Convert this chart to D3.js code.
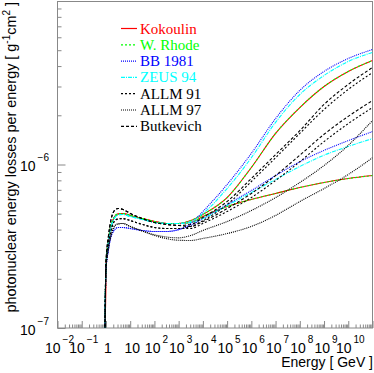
<!DOCTYPE html>
<html>
<head>
<meta charset="utf-8">
<script src="https://cdn.jsdelivr.net/npm/d3@7"></script>
<style>
  html, body { margin: 0; padding: 0; background: #fff; }
  svg { display: block; }
</style>
</head>
<body>
<div id="chart"></div>
<script>
// muon energy in GeV
const energies = [0.83, 1, 1.26, 1.58, 2, 2.51, 3.16, 5.01, 10, 31.6, 100, 316, 1e3, 3.16e3, 1e4, 1e5, 1e6, 1e7, 1e8, 1e9, 1e10, 1e11];

// b(E) in units of 1e-6 g^-1 cm^2, two curves per parametrisation
const kokoulinHi = [0.02, 0.241, 0.343, 0.418, 0.461, 0.488, 0.498, 0.502, 0.488, 0.467, 0.448, 0.436, 0.436, 0.454, 0.495, 0.628, 0.959, 1.55, 2.23, 3.00, 3.71, 4.33];
const kokoulinLo = [0.02, 0.241, 0.343, 0.418, 0.461, 0.488, 0.498, 0.502, 0.488, 0.467, 0.448, 0.436, 0.436, 0.442, 0.481, 0.553, 0.611, 0.665, 0.723, 0.776, 0.821, 0.856];
const rhodeHi = [0.02, 0.241, 0.343, 0.418, 0.461, 0.488, 0.498, 0.502, 0.488, 0.467, 0.448, 0.436, 0.436, 0.454, 0.495, 0.628, 0.959, 1.55, 2.23, 3.00, 3.71, 4.33];
const rhodeLo = [0.02, 0.241, 0.343, 0.418, 0.461, 0.488, 0.498, 0.502, 0.488, 0.467, 0.448, 0.436, 0.436, 0.442, 0.481, 0.553, 0.611, 0.665, 0.723, 0.776, 0.821, 0.856];
const bb1981Hi = [0.02, 0.225, 0.298, 0.358, 0.389, 0.406, 0.412, 0.412, 0.406, 0.395, 0.389, 0.389, 0.400, 0.436, 0.516, 0.755, 1.17, 1.91, 2.84, 3.71, 4.45, 5.05];
const bb1981Lo = [0.02, 0.225, 0.298, 0.358, 0.389, 0.406, 0.412, 0.412, 0.406, 0.395, 0.389, 0.389, 0.400, 0.424, 0.467, 0.569, 0.693, 0.856, 1.04, 1.22, 1.40, 1.59];
const zeus94Hi = [0.02, 0.241, 0.338, 0.412, 0.454, 0.481, 0.491, 0.495, 0.481, 0.461, 0.442, 0.436, 0.436, 0.448, 0.502, 0.713, 1.10, 1.81, 2.68, 3.50, 4.27, 4.84];
const zeus94Lo = [0.02, 0.241, 0.338, 0.412, 0.454, 0.481, 0.491, 0.495, 0.481, 0.461, 0.442, 0.436, 0.436, 0.442, 0.467, 0.561, 0.674, 0.810, 0.972, 1.14, 1.29, 1.44];
const allm91Hi = [0.02, 0.234, 0.324, 0.389, 0.436, 0.458, 0.464, 0.467, 0.454, 0.430, 0.412, 0.406, 0.406, 0.418, 0.454, 0.569, 0.787, 1.10, 1.55, 2.17, 2.88, 3.65];
const allm91Lo = [0.02, 0.234, 0.324, 0.389, 0.436, 0.458, 0.464, 0.467, 0.454, 0.430, 0.412, 0.406, 0.406, 0.406, 0.436, 0.516, 0.628, 0.798, 1.04, 1.38, 1.78, 2.23];
const allm97Hi = [0.02, 0.225, 0.306, 0.363, 0.406, 0.427, 0.433, 0.436, 0.418, 0.392, 0.372, 0.360, 0.356, 0.368, 0.395, 0.448, 0.523, 0.628, 0.776, 0.986, 1.31, 1.86];
const allm97Lo = [0.02, 0.225, 0.306, 0.363, 0.406, 0.427, 0.433, 0.436, 0.418, 0.392, 0.368, 0.352, 0.344, 0.343, 0.353, 0.378, 0.418, 0.488, 0.594, 0.713, 0.869, 1.10];
const butkevichHi = [0.02, 0.2515, 0.363, 0.454, 0.509, 0.531, 0.538, 0.531, 0.502, 0.467, 0.442, 0.430, 0.424, 0.430, 0.474, 0.594, 0.821, 1.15, 1.61, 2.33, 3.09, 3.92];
const butkevichLo = [0.02, 0.2515, 0.363, 0.454, 0.509, 0.531, 0.538, 0.531, 0.502, 0.467, 0.442, 0.430, 0.424, 0.418, 0.448, 0.538, 0.665, 0.856, 1.14, 1.53, 1.97, 2.46];

const modelNames = ['Kokoulin', 'W. Rhode', 'BB 1981', 'ZEUS 94', 'ALLM 91', 'ALLM 97', 'Butkevich'];
const modelColours = ['#ff0000', '#00ff00', '#0000ff', '#00ffff', '#000000', '#000000', '#000000'];
const modelDashes = [null, '2,2', '1,1', '4,1,1,1', '2,2', '1,1', '3,2'];
const modelCurves = [
    [kokoulinHi, kokoulinLo], [rhodeHi, rhodeLo], [bb1981Hi, bb1981Lo], [zeus94Hi, zeus94Lo],
    [allm91Hi, allm91Lo], [allm97Hi, allm97Lo], [butkevichHi, butkevichLo]
];

const xTickExps = [-2, -1, 0, 1, 2, 3, 4, 5, 6, 7, 8, 9, 10];
const yTickExps = [-7, -6];

document.addEventListener('DOMContentLoaded', (event) => {
    const fullWidth = 374
    const fullHeight = 373
    const left = 57.5
    const right = 372.5
    const top = 1
    const bottom = 328
    const axisColour = '#888'

    const svg = d3.select('#chart')
        .append('svg')
        .attr('width', fullWidth)
        .attr('height', fullHeight)
        .style('font-family', '"Liberation Sans", Arial, sans-serif');

    const x = d3.scaleLog().domain([1e-2, 1e11]).range([left, right]);
    const y = d3.scaleLog().domain([1e-7, 1e-5]).range([bottom, top]);

    // Ticks
    const xMajor = d3.range(-2, 12).map(p => Math.pow(10, p));
    const xMinor = [];
    for (let p = -2; p < 11; p++) {
        for (let k = 2; k < 10; k++) xMinor.push(k * Math.pow(10, p));
    }
    const yMajor = [1e-7, 1e-6, 1e-5];
    const yMinor = [];
    for (let p = -7; p < -5; p++) {
        for (let k = 2; k < 10; k++) yMinor.push(k * Math.pow(10, p));
    }

    function styleAxis(g) {
        g.select('.domain').remove();
        g.selectAll('line').attr('stroke', axisColour);
    }

    svg.append('g').attr('transform', `translate(0, ${bottom})`)
        .call(d3.axisBottom(x).tickValues(xMajor).tickSize(-7).tickFormat(''))
        .call(styleAxis);
    svg.append('g').attr('transform', `translate(0, ${bottom})`)
        .call(d3.axisBottom(x).tickValues(xMinor).tickSize(-3.5).tickFormat(''))
        .call(styleAxis);
    svg.append('g').attr('transform', `translate(${left}, 0)`)
        .call(d3.axisLeft(y).tickValues(yMajor).tickSize(-8).tickFormat(''))
        .call(styleAxis);
    svg.append('g').attr('transform', `translate(${left}, 0)`)
        .call(d3.axisLeft(y).tickValues(yMinor).tickSize(-4).tickFormat(''))
        .call(styleAxis);

    // Frame
    svg.append('rect')
        .attr('x', left).attr('y', top + 0.5)
        .attr('width', right - left).attr('height', bottom - top - 0.5)
        .attr('fill', 'none').attr('stroke', axisColour);

    // Curves
    svg.append('clipPath').attr('id', 'clip')
        .append('rect')
        .attr('x', left).attr('y', top)
        .attr('width', right - left).attr('height', bottom - top);

    const line = d3.line()
        .x((d, i) => x(energies[i]))
        .y(d => y(d * 1e-6))
        .curve(d3.curveMonotoneX);

    const curves = svg.append('g').attr('clip-path', 'url(#clip)');
    modelCurves.forEach((pair, m) => {
        curves.selectAll(null)
            .data(pair)
            .enter()
            .append('path')
            .attr('d', line)
            .attr('fill', 'none')
            .attr('stroke', modelColours[m])
            .attr('stroke-width', 1.1)
            .attr('stroke-dasharray', modelDashes[m]);
    });

    // Tick labels
    function powerLabel(sel, e) {
        if (e === 0) { sel.text('1'); return; }
        if (e === 1) { sel.text('10'); return; }
        sel.append('tspan').text('10');
        sel.append('tspan')
            .attr('font-size', 10)
            .attr('dx', 2)
            .attr('dy', -10)
            .text(String(e).replace('-', '\u2212'));
    }

    xTickExps.forEach(e => {
        svg.append('text')
            .attr('x', x(Math.pow(10, e)) + 2)
            .attr('y', 353)
            .attr('text-anchor', 'middle')
            .attr('font-size', 14)
            .call(powerLabel, e);
    });
    yTickExps.forEach(e => {
        svg.append('text')
            .attr('x', 49)
            .attr('y', y(Math.pow(10, e)) + 6.5)
            .attr('text-anchor', 'end')
            .attr('font-size', 14)
            .call(powerLabel, e);
    });

    // Axis titles
    svg.append('text')
        .attr('x', 373)
        .attr('y', 367)
        .attr('text-anchor', 'end')
        .attr('font-size', 14)
        .text('Energy [ GeV ]');

    const yTitle = svg.append('text')
        .attr('transform', 'translate(16, 2) rotate(-90)')
        .attr('text-anchor', 'end')
        .attr('font-size', 14.4);
    yTitle.append('tspan').text('photonuclear energy losses per energy [ g');
    yTitle.append('tspan').attr('font-size', 10).attr('dy', -6).text('-1');
    yTitle.append('tspan').attr('dy', 6).text('cm');
    yTitle.append('tspan').attr('font-size', 10).attr('dy', -6).text('2');
    yTitle.append('tspan').attr('dy', 6).text(' ]');

    // Legend
    const legend = svg.selectAll('.legend')
        .data(modelNames)
        .enter()
        .append('g')
        .attr('class', 'legend')
        .attr('transform', (d, i) => `translate(121, ${28.5 + i * 16.3})`);

    legend.append('line')
        .attr('x1', 0).attr('x2', 16)
        .attr('stroke', (d, i) => modelColours[i])
        .attr('stroke-width', 1.2)
        .attr('stroke-dasharray', (d, i) => modelDashes[i]);

    legend.append('text')
        .attr('x', 19)
        .attr('y', 5)
        .attr('font-family', '"Liberation Serif", "Times New Roman", serif')
        .attr('font-size', 15)
        .attr('fill', (d, i) => modelColours[i])
        .text(d => d);
});
</script>
</body>
</html>
